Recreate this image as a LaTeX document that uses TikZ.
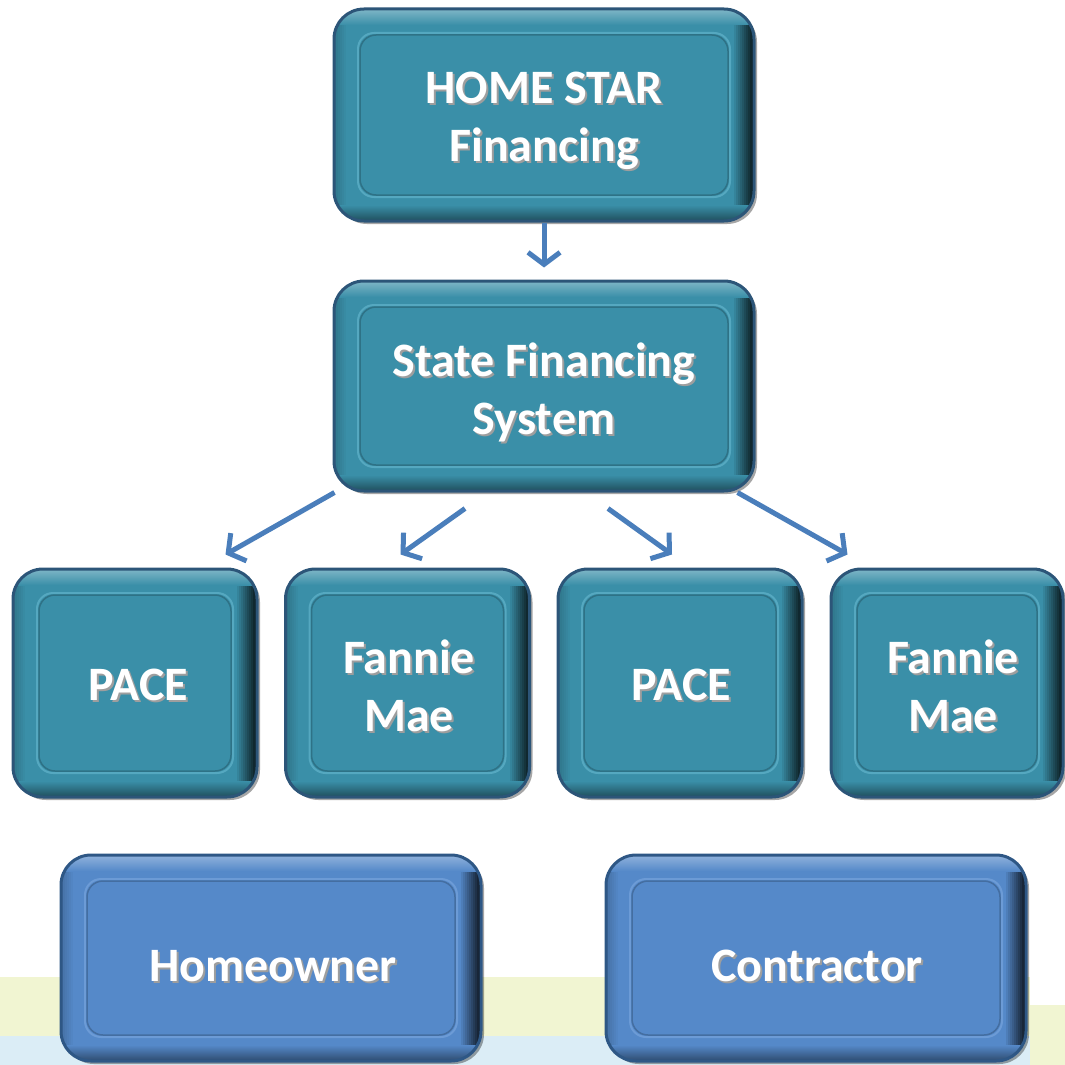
\documentclass[tikz,border=0pt]{standalone}
\usepackage{fontspec}
\setmainfont{Carlito}
\usetikzlibrary{arrows.meta,shadows}
\definecolor{tealfill}{HTML}{3A8FA8}
\definecolor{tealedge}{HTML}{2C5578}
\definecolor{tealinner}{HTML}{55A8C0}
\definecolor{bluefill}{HTML}{5589C9}
\definecolor{blueedge}{HTML}{2E5785}
\definecolor{blueinner}{HTML}{6C9BD6}
\definecolor{arrowblue}{HTML}{4A7EBB}
\definecolor{bgyellow}{HTML}{F1F5D2}
\definecolor{bgblue}{HTML}{DBEDF6}
\tikzset{
  boxbase/.style n args={3}{rounded corners=30pt, fill=#1, draw=#2, line width=3pt,
    drop shadow={shadow xshift=3pt, shadow yshift=-3pt, fill=black, opacity=0.35},
    path picture={
      \foreach \i [evaluate=\i as \p using {int(\i*8)}] in {1,...,10}
        \fill[black!\p!#1, sharp corners]
          ([xshift={-22pt+2*\i*1pt}]path picture bounding box.north east) rectangle (path picture bounding box.south east);
      \foreach \i [evaluate=\i as \p using {int(\i*3)}] in {1,...,6}
        \fill[black!\p!#1, sharp corners]
          (path picture bounding box.north west) rectangle ([xshift={14pt-2*\i*1pt}]path picture bounding box.south west);
      \shade[top color=#1, bottom color=black!45!#1, sharp corners]
        ([yshift=16pt]path picture bounding box.south west) rectangle (path picture bounding box.south east);
      \shade[top color=white!35!#1, bottom color=#1, sharp corners]
        (path picture bounding box.north west) rectangle ([yshift=-16pt]path picture bounding box.north east);
      \draw[#3, line width=2pt, rounded corners=16pt]
        ([shift={(24pt,-24pt)}]path picture bounding box.north west) rectangle
        ([shift={(-24pt,24pt)}]path picture bounding box.south east);
      \draw[black!20!#1, line width=1.5pt, rounded corners=16pt]
        ([shift={(26pt,-26pt)}]path picture bounding box.north west) rectangle
        ([shift={(-26pt,26pt)}]path picture bounding box.south east);
    }},
  tealbox/.style={boxbase={tealfill}{tealedge}{tealinner}},
  bluebox/.style={boxbase={bluefill}{blueedge}{blueinner}},
  txt/.style={font=\fontsize{48}{58}\selectfont\bfseries, align=center, text=white, inner sep=0pt},
  shd/.style={txt, text=black!38},
  arr/.style={draw=arrowblue, line width=5pt, -{Straight Barb[length=12pt,width=32pt]}}
}
\begin{document}
\begin{tikzpicture}[x=1pt,y=-1pt]
\useasboundingbox (0,0) rectangle (1065,1065);
\clip (0,0) rectangle (1065,1065);
% background bands
\fill[bgyellow] (0,977) rectangle (1030,1040);
\fill[bgyellow] (1030,1005) rectangle (1065,1065);
\fill[bgblue] (0,1036) rectangle (1030,1065);
% boxes
\node[tealbox, minimum width=420pt, minimum height=212pt] (hs) at (544,115) {};
\node[tealbox, minimum width=420pt, minimum height=210pt] (sfs) at (544,386) {};
\node[tealbox, minimum width=244pt, minimum height=228pt] (p1) at (135,683) {};
\node[tealbox, minimum width=244pt, minimum height=228pt] (f1) at (407.5,683) {};
\node[tealbox, minimum width=244pt, minimum height=228pt] (p2) at (680,683) {};
\node[tealbox, minimum width=232pt, minimum height=228pt] (f2) at (947,683) {};
\node[bluebox, minimum width=420pt, minimum height=206pt] (ho) at (271,958) {};
\node[bluebox, minimum width=420pt, minimum height=206pt] (co) at (816,958) {};
% texts
\node[shd] (hs-s) at (546,123) {HOME STAR\\Financing};
\node[txt] (hs-t) at (544,121) {HOME STAR\\Financing};
\node[shd] (sfs-s) at (546,394) {State Financing\\System};
\node[txt] (sfs-t) at (544,392) {State Financing\\System};
\node[shd] (p1-s) at (140,687) {PACE};
\node[txt] (p1-t) at (138,685) {PACE};
\node[shd] (f1-s) at (411,688) {Fannie\\Mae};
\node[txt] (f1-t) at (409,686) {Fannie\\Mae};
\node[shd] (p2-s) at (683,687) {PACE};
\node[txt] (p2-t) at (681,685) {PACE};
\node[shd] (f2-s) at (955,688) {Fannie\\Mae};
\node[txt] (f2-t) at (953,686) {Fannie\\Mae};
\node[shd] (ho-s) at (275,968) {Homeowner};
\node[txt] (ho-t) at (273,966) {Homeowner};
\node[shd] (co-s) at (819,968) {Contractor};
\node[txt] (co-t) at (817,966) {Contractor};
% arrows
\draw[arr] (hs.south) -- ([yshift=12pt]sfs.north);
\draw[arr] ([xshift=2pt]sfs.south west) -- ([shift={(-33pt,13pt)}]p1.north east);
\draw[arr] ([shift={(-79pt,-16pt)}]sfs.south) -- ([shift={(-7pt,13pt)}]f1.north);
\draw[arr] ([shift={(64pt,-16pt)}]sfs.south) -- ([shift={(-8pt,13pt)}]p2.north);
\draw[arr] ([xshift=-18pt]sfs.south east) -- ([shift={(18pt,13pt)}]f2.north west);
\end{tikzpicture}
\end{document}
